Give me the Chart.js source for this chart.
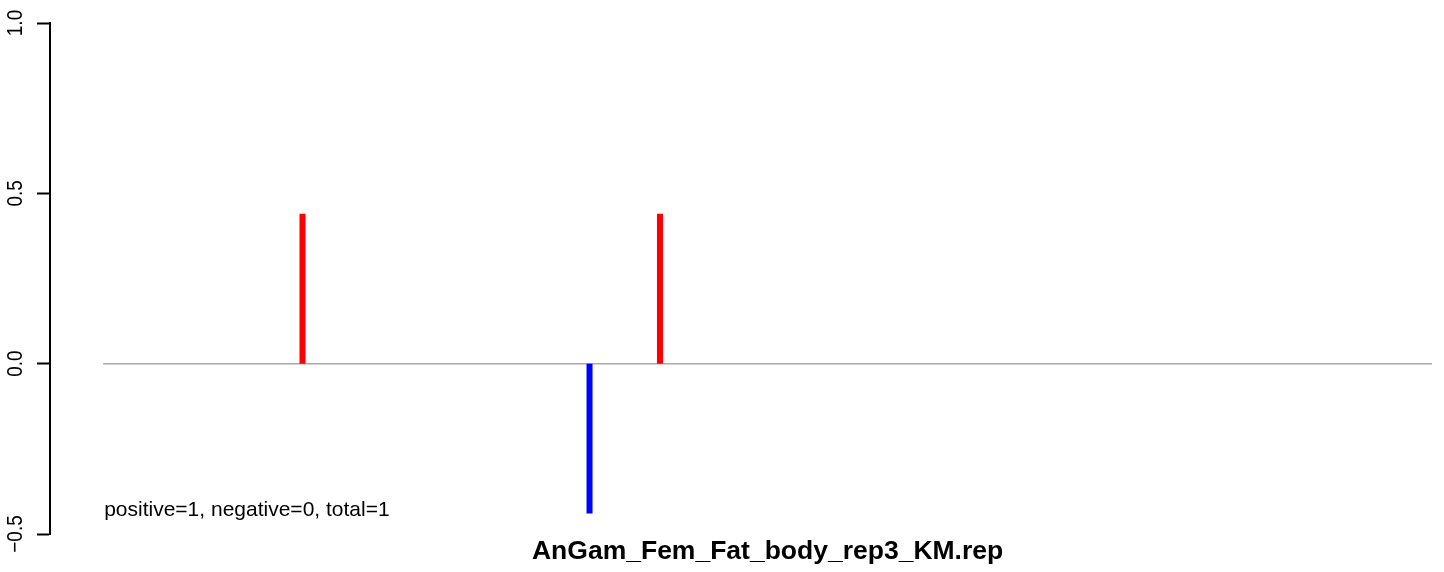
<!DOCTYPE html>
<html>
<head>
<meta charset="utf-8">
<script src="https://cdn.jsdelivr.net/npm/chart.js@4.4.0/dist/chart.umd.min.js"></script>
<style>
  html, body { margin: 0; padding: 0; background: #ffffff; overflow: hidden; }
  #wrap { width: 1444px; height: 572px; }
</style>
</head>
<body>
<div id="wrap"><canvas id="c" width="1444" height="572"></canvas></div>
<script>
// ---- data ----
const chartTitle = "AnGam_Fem_Fat_body_rep3_KM.rep";
const annotation = "positive=1, negative=0, total=1";
const positions = [150, 366, 419];
const values = [0.44, -0.44, 0.44];
const baselineRange = [0, 1000];
const yTicks = [-0.5, 0.0, 0.5, 1.0];
const xLimits = [-40, 1009];
const yLimits = [-0.5, 1.0];

const FONT = '"Liberation Sans", Arial, Helvetica, sans-serif';

const datasets = [];
datasets.push({
  label: 'baseline',
  data: baselineRange.map(x => ({ x: x, y: 0 })),
  showLine: true,
  borderColor: '#a9a9a9',
  borderWidth: 1.5,
  pointRadius: 0,
  order: 2
});
positions.forEach((p, i) => {
  datasets.push({
    label: 'bar' + i,
    data: [{ x: p, y: 0 }, { x: p, y: values[i] }],
    showLine: true,
    borderColor: values[i] >= 0 ? '#ff0000' : '#0000ff',
    borderWidth: 6,
    borderCapStyle: 'butt',
    pointRadius: 0,
    order: 1
  });
});

const textPlugin = {
  id: 'rtext',
  afterDraw(chart) {
    const ctx = chart.ctx;
    const ys = chart.scales.y;
    const xs = chart.scales.x;
    ctx.save();
    ctx.fillStyle = '#000000';
    // y tick labels, rotated
    yTicks.forEach(v => {
      const py = ys.getPixelForValue(v);
      const txt = v.toFixed(1).replace('-', '\u2212');
      ctx.save();
      ctx.translate(16, py);
      ctx.rotate(-Math.PI / 2);
      ctx.scale(1, 1.15);
      ctx.font = '19px ' + FONT;
      ctx.textAlign = 'center';
      ctx.textBaseline = 'middle';
      ctx.fillText(txt, 0, 0);
      ctx.restore();
    });
    // annotation
    ctx.font = '21px ' + FONT;
    ctx.textAlign = 'left';
    ctx.textBaseline = 'alphabetic';
    ctx.fillText(annotation, xs.getPixelForValue(baselineRange[0]) + 1, 516);
    // title
    ctx.font = 'bold 26.5px ' + FONT;
    ctx.textAlign = 'center';
    const mid = (baselineRange[0] + baselineRange[1]) / 2;
    ctx.fillText(chartTitle, xs.getPixelForValue(mid), 559);
    ctx.restore();
  }
};

new Chart(document.getElementById('c'), {
  type: 'scatter',
  data: { datasets: datasets },
  options: {
    responsive: false,
    animation: false,
    layout: { padding: { top: 23, bottom: 38, left: 0, right: 0 } },
    plugins: { legend: { display: false }, tooltip: { enabled: false }, title: { display: false } },
    scales: {
      x: { type: 'linear', display: false, min: xLimits[0], max: xLimits[1] },
      y: {
        type: 'linear',
        min: yLimits[0], max: yLimits[1],
        afterFit(scale) { scale.width = 50; },
        afterBuildTicks(scale) { scale.ticks = yTicks.map(v => ({ value: v })); },
        ticks: { display: false },
        grid: {
          drawOnChartArea: false,
          drawTicks: true,
          tickLength: 13,
          tickColor: '#000000',
          tickWidth: 2,
          color: '#000000'
        },
        border: { display: true, color: '#000000', width: 2 }
      }
    }
  },
  plugins: [textPlugin]
});
</script>
</body>
</html>
